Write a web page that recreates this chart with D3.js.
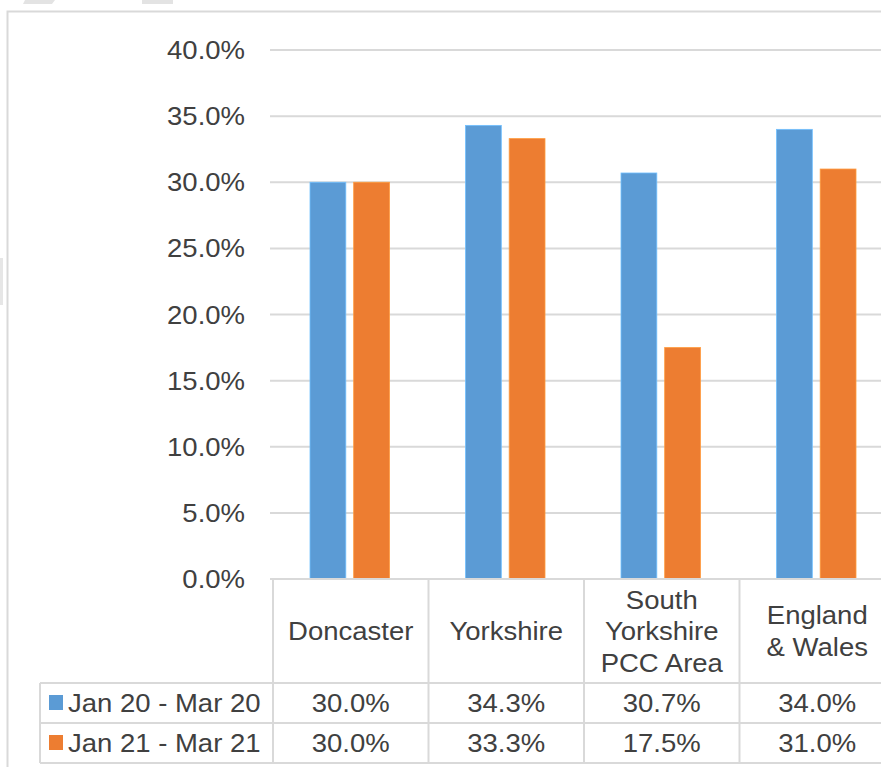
<!DOCTYPE html>
<html>
<head>
<meta charset="utf-8">
<script src="https://cdn.jsdelivr.net/npm/d3@7"></script>
<style>
  html, body { margin: 0; padding: 0; background: #fff; }
  svg { display: block; font-family: "Liberation Sans", Arial, sans-serif; }
</style>
</head>
<body>
<div id="vis"></div>
<script>
// chart data
var categories = ['Doncaster', 'Yorkshire', 'South Yorkshire PCC Area', 'England & Wales'];
var categoryLines = [['Doncaster'], ['Yorkshire'], ['South', 'Yorkshire', 'PCC Area'], ['England', '& Wales']];
var seriesNames = ['Jan 20 - Mar 20', 'Jan 21 - Mar 21'];
var jan20 = [0.300, 0.343, 0.307, 0.340];
var jan21 = [0.300, 0.333, 0.175, 0.310];
var yTicks = [0, 0.05, 0.10, 0.15, 0.20, 0.25, 0.30, 0.35, 0.40];

var width = 881;
var height = 767;
var colors = ['#5B9BD5', '#ED7D31'];
var gridColor = '#D9D9D9';
var textColor = '#404040';
var fontSize = 25;
var stretch = 1.1;

var svg = d3.select('#vis').append('svg')
  .attr('width', width)
  .attr('height', height);

// stray bits from the screenshot crop
svg.append('path').attr('d', 'M25,0 L55,0 L52,4 L23,4 Z').attr('fill', '#e3e3e3');
svg.append('path').attr('d', 'M142,0 L173,0 L173,4 L142,4 Z').attr('fill', '#e3e3e3');
svg.append('rect').attr('x', 0).attr('y', 258).attr('width', 3).attr('height', 47).attr('fill', '#e6e6e6');

// outer chart frame
svg.append('path')
  .attr('d', 'M7.5,' + height + ' L7.5,11.5 L' + width + ',11.5')
  .attr('fill', 'none')
  .attr('stroke', gridColor)
  .attr('stroke-width', 2);

var y = d3.scaleLinear().domain([0, 0.4]).range([579, 50]);
var x0 = d3.scaleBand().domain(categories).range([273, 895]);
var bw = x0.bandwidth();
var x1 = d3.scaleBand().domain(seriesNames).range([37, bw - 39]).paddingInner(0.18);

var pct = d3.format('.1%');

function addText(g, tx, ty, str, anchor) {
  return g.append('text')
    .attr('transform', 'translate(' + tx + ',' + ty + ') scale(' + stretch + ',1)')
    .attr('text-anchor', anchor || 'middle')
    .attr('fill', textColor)
    .attr('font-size', fontSize)
    .text(str);
}

// gridlines
svg.append('g').selectAll('line')
  .data(yTicks.slice(1))
  .enter().append('line')
  .attr('x1', 270).attr('x2', width)
  .attr('y1', function (d) { return y(d); })
  .attr('y2', function (d) { return y(d); })
  .attr('stroke', gridColor)
  .attr('stroke-width', 2);

// y tick labels
var yLab = svg.append('g');
yTicks.forEach(function (t) {
  addText(yLab, 245, y(t) + 9, pct(t), 'end');
});

// bars
var seriesData = [jan20, jan21];
var barG = svg.append('g');
seriesData.forEach(function (vals, si) {
  barG.selectAll('.bar' + si)
    .data(vals)
    .enter().append('rect')
    .attr('class', 'bar' + si)
    .attr('x', function (d, i) { return x0(categories[i]) + x1(seriesNames[si]); })
    .attr('width', x1.bandwidth())
    .attr('y', function (d) { return y(d); })
    .attr('height', function (d) { return y(0) - y(d); })
    .attr('fill', colors[si])
    .attr('stroke', d3.rgb(colors[si]).brighter(0.6))
    .attr('stroke-width', 0.8);
});

// data table
var table = svg.append('g');
var rowTop = [579, 683, 723, 763];
var tableLeft = 40;

function hline(yy, xa, xb) {
  table.append('line').attr('x1', xa).attr('x2', xb).attr('y1', yy).attr('y2', yy)
    .attr('stroke', gridColor).attr('stroke-width', 2);
}
function vline(xx, ya, yb) {
  table.append('line').attr('x1', xx).attr('x2', xx).attr('y1', ya).attr('y2', yb)
    .attr('stroke', gridColor).attr('stroke-width', 2);
}

hline(y(0), 270, width);
hline(rowTop[1], tableLeft, width);
hline(rowTop[2], tableLeft, width);
hline(rowTop[3], tableLeft, width);
vline(tableLeft, rowTop[1], rowTop[3]);
categories.forEach(function (c) { vline(x0(c), y(0), rowTop[3]); });
vline(x0.range()[1], y(0), rowTop[3]);

// category header
categoryLines.forEach(function (lines, i) {
  var cx = x0(categories[i]) + bw / 2;
  var lh = 31.5;
  var mid = 640 - (lines.length - 1) * lh / 2;
  lines.forEach(function (l, j) {
    addText(table, cx, mid + j * lh, l);
  });
});

// series rows
var rowBase = [712, 752];
seriesData.forEach(function (vals, si) {
  table.append('rect')
    .attr('x', 49).attr('y', rowBase[si] - 17)
    .attr('width', 14).attr('height', 15)
    .attr('fill', colors[si]);
  addText(table, 68, rowBase[si], seriesNames[si], 'start');
  vals.forEach(function (v, i) {
    addText(table, x0(categories[i]) + bw / 2, rowBase[si], pct(v));
  });
});
</script>
</body>
</html>
